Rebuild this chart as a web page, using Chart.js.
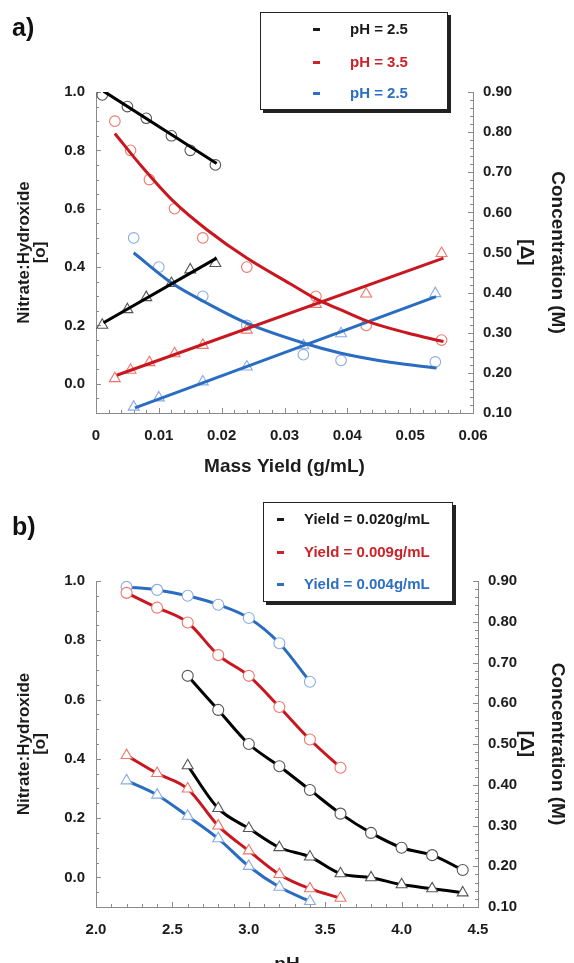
<!DOCTYPE html>
<html>
<head>
<meta charset="utf-8">
<script src="https://cdn.jsdelivr.net/npm/chart.js@4.4.1/dist/chart.umd.min.js"></script>
<style>
  body { margin: 0; width: 574px; height: 963px; overflow: hidden; background: #fff; position: relative; font-family: "Liberation Sans", Arial, sans-serif; }
  .panel { position: absolute; left: 0; width: 574px; }
  .tag { position: absolute; left: 12px; font-weight: bold; font-size: 25px; line-height: 30px; color: #111; }
  .key { position: absolute; box-sizing: border-box; background: #fff; border: 1.5px solid #222; box-shadow: 3px 3px 0 #222; }
  .key .dash { position: absolute; width: 7px; height: 3px; }
  .key .txt { position: absolute; font-weight: bold; font-size: 15px; line-height: 18px; white-space: nowrap; }
</style>
</head>
<body>
<div class="panel" style="top:0;height:480px"><canvas id="chart-a"></canvas></div>
<div class="panel" style="top:480px;height:500px"><canvas id="chart-b"></canvas></div>
<div class="tag" style="top:12px">a)</div>
<div class="tag" style="top:511px">b)</div>
<div class="key" id="key-a" style="left:260px;top:12px;width:188px;height:98px"></div>
<div class="key" id="key-b" style="left:263px;top:502px;width:190px;height:100px"></div>

<script>
// Panel a: nitrate:hydroxide (circles, left axis) and concentration (triangles, right axis) vs mass yield
const legendA = ["pH = 2.5", "pH = 3.5", "pH = 2.5"];

const blackYieldA = [0.001, 0.005, 0.008, 0.012, 0.015, 0.019];
const blackRatioA = [0.99, 0.95, 0.91, 0.85, 0.80, 0.75];
const blackConcA = [0.319, 0.358, 0.388, 0.423, 0.457, 0.473];
const blackRatioFitX = [0.0012, 0.0192];
const blackRatioFitY = [1.003, 0.755];
const blackConcFitX = [0.0012, 0.0192];
const blackConcFitY = [0.325, 0.486];

const redYieldA = [0.003, 0.0055, 0.0085, 0.0125, 0.017, 0.024, 0.035, 0.043, 0.055];
const redRatioA = [0.90, 0.80, 0.70, 0.60, 0.50, 0.40, 0.30, 0.20, 0.15];
const redConcA = [0.186, 0.207, 0.226, 0.248, 0.269, 0.307, 0.371, 0.397, 0.498];
const redRatioFitX = [0.003, 0.007, 0.0123, 0.0176, 0.024, 0.0309, 0.0351, 0.0388, 0.0431, 0.0494, 0.0553];
const redRatioFitY = [0.858, 0.752, 0.626, 0.529, 0.431, 0.343, 0.29, 0.255, 0.215, 0.175, 0.145];
const redConcFitX = [0.0033, 0.0553];
const redConcFitY = [0.194, 0.486];

const blueYieldA = [0.006, 0.010, 0.017, 0.024, 0.033, 0.039, 0.054];
const blueRatioA = [0.50, 0.40, 0.30, 0.20, 0.10, 0.08, 0.075];
const blueConcA = [0.115, 0.138, 0.178, 0.215, 0.268, 0.298, 0.398];
const blueRatioFitX = [0.006, 0.012, 0.0176, 0.024, 0.033, 0.039, 0.0468, 0.0542];
const blueRatioFitY = [0.449, 0.346, 0.277, 0.208, 0.140, 0.105, 0.074, 0.054];
const blueConcFitX = [0.0062, 0.0541];
const blueConcFitY = [0.113, 0.390];

// Panel b: same quantities vs pH at three yields
const legendB = ["Yield = 0.020g/mL", "Yield = 0.009g/mL", "Yield = 0.004g/mL"];

const blackPh = [2.6, 2.8, 3.0, 3.2, 3.4, 3.6, 3.8, 4.0, 4.2, 4.4];
const blackRatioB = [0.68, 0.565, 0.45, 0.375, 0.295, 0.215, 0.15, 0.10, 0.075, 0.025];
const blackConcB = [0.447, 0.342, 0.293, 0.246, 0.223, 0.182, 0.172, 0.155, 0.145, 0.135];

const redPh = [2.2, 2.4, 2.6, 2.8, 3.0, 3.2, 3.4, 3.6];
const redRatioB = [0.96, 0.91, 0.86, 0.75, 0.68, 0.575, 0.465, 0.37];
const redConcB = [0.472, 0.428, 0.39, 0.299, 0.238, 0.180, 0.145, 0.122];

const bluePh = [2.2, 2.4, 2.6, 2.8, 3.0, 3.2, 3.4];
const blueRatioB = [0.98, 0.97, 0.95, 0.92, 0.875, 0.79, 0.66];
const blueConcB = [0.410, 0.375, 0.323, 0.268, 0.200, 0.149, 0.114];

// Axis ticks
const massYieldTicks = [0, 0.01, 0.02, 0.03, 0.04, 0.05, 0.06];
const massYieldLabels = ["0", "0.01", "0.02", "0.03", "0.04", "0.05", "0.06"];
const phTicks = [2.0, 2.5, 3.0, 3.5, 4.0, 4.5];
const phLabels = ["2.0", "2.5", "3.0", "3.5", "4.0", "4.5"];
const ratioTicks = [0, 0.2, 0.4, 0.6, 0.8, 1.0];
const ratioLabels = ["0.0", "0.2", "0.4", "0.6", "0.8", "1.0"];
const concTicks = [0.1, 0.2, 0.3, 0.4, 0.5, 0.6, 0.7, 0.8, 0.9];
const concLabels = ["0.10", "0.20", "0.30", "0.40", "0.50", "0.60", "0.70", "0.80", "0.90"];

const lineColors = ["#000000", "#c8171f", "#2a6cc0"];
const markColors = ["#555555", "#ee766b", "#88abe6"];
const keyColors = ["#1a1a1a", "#cc2229", "#2d6fc2"];
const axisGray = "#8a8a8a";
const FONT = "'Liberation Sans', Arial, sans-serif";

function pts(xs, ys) {
	return xs.map((x, i) => ({ x, y: ys[i] }));
}

function markers(xs, ys, axis, style, color) {
	return {
		data: pts(xs, ys),
		yAxisID: axis,
		showLine: false,
		pointStyle: style,
		pointRadius: style === "triangle" ? 6.3 : 5.3,
		pointBorderWidth: 1.1,
		pointBorderColor: color,
		pointBackgroundColor: "rgba(0,0,0,0)",
		order: 2,
	};
}

function fitLine(xs, ys, axis, color) {
	return {
		data: pts(xs, ys),
		yAxisID: axis,
		showLine: true,
		borderColor: color,
		borderWidth: 3,
		pointRadius: 0,
		tension: 0.4,
		cubicInterpolationMode: "monotone",
		order: 1,
	};
}

function series(xs, ys, axis, style, i) {
	return {
		data: pts(xs, ys),
		yAxisID: axis,
		showLine: true,
		borderColor: lineColors[i],
		borderWidth: 3,
		tension: 0.4,
		cubicInterpolationMode: "monotone",
		pointStyle: style,
		pointRadius: style === "triangle" ? 6.3 : 5.5,
		pointBorderWidth: 1.1,
		pointBorderColor: markColors[i],
		pointBackgroundColor: "#ffffff",
	};
}

// Fixed tick positions and labels from the arrays above
function fixedTicks(values, labels, padding) {
	return {
		afterBuildTicks: ax => {
			ax.ticks = values.map(value => ({ value }));
		},
		ticks: {
			autoSkip: false,
			maxRotation: 0,
			padding,
			color: "#1c1c1c",
			font: { family: FONT, size: 15, weight: "bold" },
			callback: (v, i) => labels[i],
		},
		grid: { drawOnChartArea: false, drawTicks: false, color: axisGray },
		border: { color: axisGray, width: 1 },
	};
}

function scales(cfg) {
	return {
		x: {
			type: "linear",
			min: cfg.xMin,
			max: cfg.xMax,
			...fixedTicks(cfg.xTicks, cfg.xLabels, 14),
			title: { display: true, text: cfg.xTitle, color: "#1c1c1c", font: { family: FONT, size: 19, weight: "bold", lineHeight: 1.2 }, padding: { top: 0, bottom: cfg.xTitlePad } },
			afterFit: ax => {
				ax.height = cfg.xHeight;
			},
		},
		y: {
			type: "linear",
			position: "left",
			min: -0.1,
			max: 1.0,
			...fixedTicks(ratioTicks, ratioLabels, 11),
			title: { display: true, text: ["Nitrate:Hydroxide", "[o]"], color: "#1c1c1c", font: { family: FONT, size: 17, weight: "bold", lineHeight: 0.95 }, padding: { top: 16, bottom: 0 } },
			afterFit: ax => {
				ax.width = 96;
			},
		},
		y2: {
			type: "linear",
			position: "right",
			min: 0.1,
			max: 0.9,
			...fixedTicks(concTicks, concLabels, 10),
			title: { display: true, text: ["Concentration (M)", "[\u0394]"], color: "#1c1c1c", font: { family: FONT, size: 19, weight: "bold", lineHeight: 1.6 }, padding: { top: 2, bottom: 0 } },
			afterFit: ax => {
				ax.width = cfg.rightWidth;
			},
		},
	};
}

// Short tick marks drawn inside the plot frame (major and minor)
const inwardTicks = {
	id: "inwardTicks",
	beforeDatasetsDraw(chart, args, opts) {
		const ctx = chart.ctx;
		const area = chart.chartArea;
		ctx.save();
		ctx.strokeStyle = axisGray;
		ctx.lineWidth = 1;
		Object.entries(opts.marks || {}).forEach(([id, spec]) => {
			const scale = chart.scales[id];
			const n = Math.round((scale.max - scale.min) / spec.minor);
			for (let i = 0; i <= n; i++) {
				const v = scale.min + i * spec.minor;
				const major = spec.major.some(m => Math.abs(m - v) < spec.minor / 10);
				const len = major ? 5 : 3;
				const p = Math.round(scale.getPixelForValue(v)) + 0.5;
				ctx.beginPath();
				if (scale.isHorizontal()) {
					ctx.moveTo(p, area.bottom);
					ctx.lineTo(p, area.bottom - len);
				} else if (scale.position === "left") {
					ctx.moveTo(area.left, p);
					ctx.lineTo(area.left + len, p);
				} else {
					ctx.moveTo(area.right, p);
					ctx.lineTo(area.right - len, p);
				}
				ctx.stroke();
			}
		});
		ctx.restore();
	},
};

function baseOptions(cfg) {
	return {
		responsive: true,
		maintainAspectRatio: false,
		animation: false,
		events: [],
		layout: { padding: { top: cfg.top, left: 0, right: 0, bottom: 0 } },
		plugins: {
			legend: { display: false },
			tooltip: { enabled: false },
			inwardTicks: {
				marks: {
					x: { minor: cfg.xMinor, major: cfg.xTicks },
					y: { minor: 0.05, major: ratioTicks },
					y2: { minor: 0.02, major: concTicks },
				},
			},
		},
		scales: scales(cfg),
	};
}

const cfgA = { xMin: 0, xMax: 0.06, xTicks: massYieldTicks, xLabels: massYieldLabels, xMinor: 0.002, xTitle: "Mass Yield (g/mL)", xHeight: 67, xTitlePad: 2, rightWidth: 101, top: 92 };
const cfgB = { xMin: 2.0, xMax: 4.5, xTicks: phTicks, xLabels: phLabels, xMinor: 0.1, xTitle: "pH", xHeight: 73, xTitlePad: 4, rightWidth: 96, top: 101 };

new Chart(document.getElementById("chart-a"), {
	type: "scatter",
	data: {
		datasets: [
			fitLine(blackRatioFitX, blackRatioFitY, "y", lineColors[0]),
			fitLine(blackConcFitX, blackConcFitY, "y2", lineColors[0]),
			fitLine(redRatioFitX, redRatioFitY, "y", lineColors[1]),
			fitLine(redConcFitX, redConcFitY, "y2", lineColors[1]),
			fitLine(blueRatioFitX, blueRatioFitY, "y", lineColors[2]),
			fitLine(blueConcFitX, blueConcFitY, "y2", lineColors[2]),
			markers(blackYieldA, blackRatioA, "y", "circle", markColors[0]),
			markers(blackYieldA, blackConcA, "y2", "triangle", markColors[0]),
			markers(redYieldA, redRatioA, "y", "circle", markColors[1]),
			markers(redYieldA, redConcA, "y2", "triangle", markColors[1]),
			markers(blueYieldA, blueRatioA, "y", "circle", markColors[2]),
			markers(blueYieldA, blueConcA, "y2", "triangle", markColors[2]),
		],
	},
	options: baseOptions(cfgA),
	plugins: [inwardTicks],
});

new Chart(document.getElementById("chart-b"), {
	type: "scatter",
	data: {
		datasets: [
			series(blackPh, blackRatioB, "y", "circle", 0),
			series(blackPh, blackConcB, "y2", "triangle", 0),
			series(redPh, redRatioB, "y", "circle", 1),
			series(redPh, redConcB, "y2", "triangle", 1),
			series(bluePh, blueRatioB, "y", "circle", 2),
			series(bluePh, blueConcB, "y2", "triangle", 2),
		],
	},
	options: baseOptions(cfgB),
	plugins: [inwardTicks],
});

// Legend boxes: short coloured dash + label per series
function buildKey(id, labels, dashLeft, textLeft, rows) {
	const box = document.getElementById(id);
	labels.forEach((label, i) => {
		const dash = document.createElement("div");
		dash.className = "dash";
		dash.style.left = dashLeft + "px";
		dash.style.top = rows[i] - 1.5 + "px";
		dash.style.background = keyColors[i];
		box.appendChild(dash);
		const txt = document.createElement("div");
		txt.className = "txt";
		txt.style.left = textLeft + "px";
		txt.style.top = rows[i] - 9 + "px";
		txt.style.color = keyColors[i];
		txt.textContent = label;
		box.appendChild(txt);
	});
}

buildKey("key-a", legendA, 52, 89, [16, 49, 80]);
buildKey("key-b", legendB, 13, 40, [16, 49, 81]);
</script>
</body>
</html>
